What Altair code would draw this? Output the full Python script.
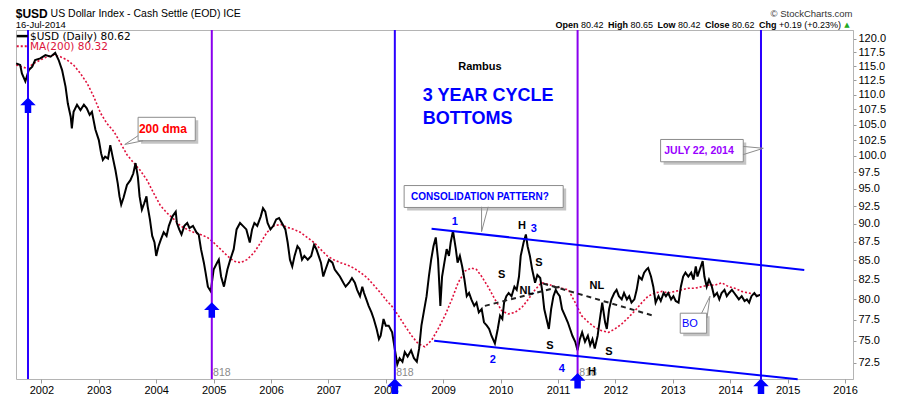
import altair as alt
import pandas as pd

# ---------------- data ----------------
price_t = [2001.56, 2001.63, 2001.66, 2001.72, 2001.78, 2001.84, 2001.89, 2001.98, 2002.07, 2002.16,
           2002.24, 2002.30, 2002.36, 2002.42, 2002.46, 2002.51, 2002.53, 2002.56, 2002.62, 2002.68,
           2002.74, 2002.79, 2002.84, 2002.88, 2002.94, 2003.00, 2003.04, 2003.07, 2003.11, 2003.16,
           2003.20, 2003.24, 2003.29, 2003.33, 2003.36, 2003.39, 2003.43, 2003.49, 2003.55, 2003.60,
           2003.64, 2003.68, 2003.71, 2003.75, 2003.79, 2003.83, 2003.85, 2003.89, 2003.93, 2003.97,
           2004.00, 2004.04, 2004.08, 2004.13, 2004.18, 2004.22, 2004.28, 2004.34, 2004.36, 2004.40,
           2004.44, 2004.49, 2004.54, 2004.58, 2004.64, 2004.70, 2004.74, 2004.78, 2004.83, 2004.86,
           2004.90, 2004.95, 2005.00, 2005.06, 2005.09, 2005.13, 2005.18, 2005.24, 2005.29, 2005.35,
           2005.40, 2005.46, 2005.51, 2005.57, 2005.63, 2005.67, 2005.71, 2005.76, 2005.82, 2005.86,
           2005.90, 2005.94, 2005.99, 2006.04, 2006.09, 2006.14, 2006.19, 2006.25, 2006.29, 2006.33,
           2006.37, 2006.41, 2006.46, 2006.50, 2006.54, 2006.58, 2006.64, 2006.70, 2006.75, 2006.79,
           2006.83, 2006.87, 2006.91, 2006.95, 2007.01, 2007.07, 2007.11, 2007.15, 2007.20, 2007.26,
           2007.30, 2007.36, 2007.41, 2007.46, 2007.50, 2007.55, 2007.59, 2007.62, 2007.66, 2007.70,
           2007.75, 2007.79, 2007.84, 2007.88, 2007.91, 2007.96, 2008.00, 2008.05, 2008.11, 2008.16,
           2008.20, 2008.24, 2008.29, 2008.33, 2008.38, 2008.44, 2008.49, 2008.54, 2008.58, 2008.62,
           2008.67, 2008.71, 2008.75, 2008.79, 2008.83, 2008.87, 2008.91, 2008.95, 2008.98, 2009.02,
           2009.06, 2009.10, 2009.13, 2009.17, 2009.22, 2009.25, 2009.29, 2009.33, 2009.37, 2009.41,
           2009.45, 2009.49, 2009.54, 2009.58, 2009.62, 2009.67, 2009.71, 2009.76, 2009.80, 2009.84,
           2009.90, 2009.95, 2009.99, 2010.03, 2010.06, 2010.10, 2010.14, 2010.19, 2010.24, 2010.28,
           2010.32, 2010.35, 2010.40, 2010.44, 2010.47, 2010.51, 2010.55, 2010.60, 2010.64, 2010.69,
           2010.73, 2010.76, 2010.80, 2010.84, 2010.88, 2010.92, 2010.96, 2010.99, 2011.03, 2011.07,
           2011.12, 2011.17, 2011.21, 2011.25, 2011.30, 2011.34, 2011.38, 2011.42, 2011.47, 2011.52,
           2011.56, 2011.60, 2011.64, 2011.69, 2011.73, 2011.77, 2011.82, 2011.85, 2011.89, 2011.93,
           2011.98, 2012.02, 2012.06, 2012.11, 2012.15, 2012.20, 2012.24, 2012.28, 2012.33, 2012.37,
           2012.41, 2012.46, 2012.50, 2012.54, 2012.57, 2012.62, 2012.66, 2012.70, 2012.75, 2012.79,
           2012.84, 2012.88, 2012.92, 2012.97, 2013.01, 2013.05, 2013.10, 2013.14, 2013.18, 2013.22,
           2013.27, 2013.32, 2013.36, 2013.40, 2013.43, 2013.47, 2013.52, 2013.55, 2013.59, 2013.63,
           2013.68, 2013.72, 2013.77, 2013.81, 2013.85, 2013.90, 2013.94, 2013.98, 2014.03, 2014.07,
           2014.11, 2014.15, 2014.20, 2014.25, 2014.29, 2014.33, 2014.37, 2014.42, 2014.46, 2014.54]
price_v = [115.5, 115.2, 113.7, 112.3, 114.3, 114.9, 116.1, 116.4, 117.0, 116.7,
           117.4, 116.1, 114.3, 111.4, 108.5, 106.3, 104.4, 107.1, 108.3, 107.4,
           108.3, 107.7, 106.6, 107.1, 104.2, 102.5, 100.4, 99.4, 99.9, 99.6,
           101.7, 99.9, 97.8, 95.8, 93.9, 92.7, 93.7, 95.6, 96.3, 97.3,
           98.9, 96.8, 93.9, 92.0, 92.9, 93.9, 92.5, 90.6, 88.3, 87.4,
           85.6, 86.9, 87.8, 88.8, 88.3, 89.7, 91.0, 91.7, 90.1, 89.2,
           88.5, 89.7, 90.1, 89.4, 89.7, 88.8, 88.5, 86.5, 84.7, 83.4,
           81.6, 81.0, 83.8, 84.7, 85.1, 82.9, 81.6, 83.8, 85.1, 86.5,
           89.2, 90.1, 89.7, 89.2, 87.4, 89.2, 90.1, 89.7, 91.0, 92.2,
           91.7, 90.1, 89.2, 89.7, 90.6, 90.8, 90.1, 89.2, 87.4, 85.1,
           84.2, 85.6, 86.9, 86.5, 85.1, 85.6, 85.1, 85.6, 87.1, 86.5,
           85.6, 84.7, 82.9, 83.8, 85.1, 84.7, 83.8, 83.4, 82.9, 82.1,
           81.6, 82.1, 82.7, 82.1, 81.2, 80.4, 81.6, 80.8, 80.0, 79.2,
           78.4, 77.6, 76.4, 75.2, 75.6, 77.6, 76.8, 76.8, 76.0, 73.9,
           72.3, 73.0, 72.6, 73.7, 73.2, 73.9, 73.0, 72.6, 74.1, 76.8,
           78.8, 80.4, 82.9, 85.1, 86.9, 88.1, 85.1, 79.2, 82.9, 84.7,
           86.5, 85.6, 87.4, 89.0, 86.5, 84.7, 85.6, 84.2, 82.5, 80.4,
           80.8, 80.0, 79.2, 79.6, 78.4, 78.8, 77.2, 76.8, 76.4, 75.6,
           74.7, 76.4, 78.0, 77.6, 79.6, 80.4, 80.8, 80.4, 81.6, 81.2,
           82.9, 85.6, 87.4, 88.5, 86.9, 85.6, 83.8, 82.1, 83.1, 82.7,
           80.8, 78.8, 77.6, 76.4, 78.8, 80.4, 81.2, 80.8, 80.4, 78.8,
           78.0, 77.2, 76.4, 75.6, 74.9, 73.9, 75.2, 76.0, 74.9, 75.6,
           74.5, 75.2, 74.1, 75.6, 77.6, 79.6, 77.2, 76.4, 78.8, 80.0,
           80.8, 81.2, 80.4, 80.0, 80.8, 80.0, 80.4, 79.6, 80.0, 81.2,
           82.9, 82.5, 83.4, 83.8, 84.0, 82.9, 81.6, 79.6, 80.4, 79.8,
           80.8, 80.4, 80.8, 80.0, 80.4, 79.8, 79.6, 81.6, 82.9, 83.4,
           82.9, 83.4, 82.5, 84.2, 82.9, 83.8, 84.9, 82.9, 81.6, 82.5,
           81.6, 80.4, 80.8, 80.0, 80.8, 81.2, 80.4, 80.8, 81.2, 80.8,
           80.4, 80.0, 80.4, 79.8, 80.0, 79.6, 80.4, 80.8, 80.4, 80.62]

ma_t = [2001.56, 2001.75, 2001.87, 2001.98, 2002.10, 2002.21, 2002.33, 2002.45, 2002.56, 2002.68,
        2002.80, 2002.91, 2003.03, 2003.14, 2003.26, 2003.38, 2003.49, 2003.61, 2003.72, 2003.84,
        2003.96, 2004.07, 2004.19, 2004.31, 2004.42, 2004.54, 2004.65, 2004.77, 2004.89, 2005.00,
        2005.12, 2005.24, 2005.35, 2005.47, 2005.58, 2005.70, 2005.82, 2005.93, 2006.05, 2006.17,
        2006.28, 2006.40, 2006.51, 2006.63, 2006.75, 2006.86, 2006.98, 2007.09, 2007.21, 2007.33,
        2007.44, 2007.56, 2007.68, 2007.79, 2007.91, 2008.02, 2008.10, 2008.22, 2008.33, 2008.45,
        2008.56, 2008.68, 2008.80, 2008.91, 2009.03, 2009.15, 2009.26, 2009.38, 2009.49, 2009.58,
        2009.67, 2009.78, 2009.90, 2010.02, 2010.13, 2010.25, 2010.37, 2010.48, 2010.60, 2010.71,
        2010.83, 2010.95, 2011.06, 2011.18, 2011.30, 2011.41, 2011.53, 2011.64, 2011.76, 2011.88,
        2011.99, 2012.11, 2012.23, 2012.34, 2012.46, 2012.57, 2012.69, 2012.81, 2012.92, 2013.04,
        2013.15, 2013.27, 2013.39, 2013.50, 2013.62, 2013.74, 2013.85, 2013.97, 2014.08, 2014.20,
        2014.32, 2014.43, 2014.54]
ma_v = [115.2, 114.6, 115.5, 116.1, 116.7, 117.0, 116.7, 116.1, 115.2, 113.7,
        111.9, 109.7, 106.9, 105.2, 103.9, 102.0, 100.2, 98.9, 97.8, 96.3,
        94.3, 92.6, 91.5, 90.6, 89.7, 89.2, 88.8, 88.5, 88.1, 87.4,
        86.5, 85.6, 84.9, 84.7, 85.1, 86.0, 87.4, 88.8, 89.7, 89.9,
        89.5, 89.2, 88.8, 88.1, 87.4, 86.5, 85.6, 85.1, 84.7, 84.4,
        84.0, 83.4, 82.7, 81.8, 80.8, 79.8, 79.2, 78.0, 76.8, 75.6,
        74.7, 74.3, 75.1, 76.4, 78.0, 80.0, 82.1, 83.6, 84.0, 83.8,
        82.9, 81.6, 80.0, 78.6, 78.2, 78.4, 79.0, 80.0, 81.2, 82.1,
        81.9, 81.6, 81.4, 81.2, 79.6, 78.0, 77.2, 76.6, 76.2, 76.0,
        76.4, 77.0, 77.8, 78.6, 79.6, 80.4, 80.8, 81.0, 80.8, 81.0,
        81.2, 81.4, 81.4, 81.6, 81.8, 81.8, 82.1, 81.6, 81.4, 81.0,
        80.8, 80.6, 80.32]

cycle_t = [2001.766, 2004.968, 2008.157, 2011.341, 2014.536]
cycle_colors = ["#2a00ff", "#8a00ee", "#2a00ff", "#8a00ee", "#2a00ff"]
arrow_v = [108.2, 78.7, 69.9, 70.5, 69.9]

year_ticks = list(range(2002, 2017))
price_ticks = [72.5, 75.0, 77.5, 80.0, 82.5, 85.0, 87.5, 90.0, 92.5, 95.0,
               97.5, 100.0, 102.5, 105.0, 107.5, 110.0, 112.5, 115.0, 117.5, 120.0]

# channel lines (start/end)
trend_id = ["up", "up", "lo", "lo"]
trend_t = [2008.797, 2015.290, 2008.842, 2015.175]
trend_v = [89.3, 83.75, 75.0, 70.65]
neck_id = ["n1", "n1", "n2", "n2"]
neck_t = [2009.726, 2011.033, 2010.742, 2012.659]
neck_v = [79.2, 81.6, 82.0, 78.0]

# ---------------- scales / axes ----------------
FONT = "Liberation Sans"
xs = alt.Scale(domain=[2001.557, 2016.139], nice=False, zero=False)
ys = alt.Scale(type="log", domain=[70.68, 121.65], nice=False)
xaxis = alt.Axis(values=year_ticks, format="d", title=None, grid=False, domain=False,
                 tickSize=4, tickColor="#9a9a9a", labelFont=FONT, labelFontSize=11,
                 labelColor="black", labelPadding=1, labelFlush=False, labelOverlap=False)
yaxis = alt.Axis(orient="right", values=price_ticks, format=".1f", title=None, grid=False,
                 domainColor="#b4b4b4", tickSize=3, tickColor="#9a9a9a", labelFont=FONT,
                 labelFontSize=11, labelColor="black", labelPadding=2, labelOverlap=False)
X = alt.X("t:Q", scale=xs, axis=xaxis)
Y = alt.Y("v:Q", scale=ys, axis=yaxis)

layers = []

price_df = pd.DataFrame({"t": price_t, "v": price_v})
ma_df = pd.DataFrame({"t": ma_t, "v": ma_v})
layers.append(alt.Chart(ma_df).mark_line(color="#e0103c", strokeWidth=1.6, strokeDash=[2, 2])
              .encode(x=X, y=Y))
layers.append(alt.Chart(price_df).mark_line(color="black", strokeWidth=2).encode(x=X, y=Y))

cyc_df = pd.DataFrame({"t": cycle_t, "c": cycle_colors})
layers.append(alt.Chart(cyc_df).mark_rule(strokeWidth=2).encode(
    x=X, color=alt.Color("c:N", scale=None)))

tr_df = pd.DataFrame({"id": trend_id, "t": trend_t, "v": trend_v})
layers.append(alt.Chart(tr_df).mark_line(color="#0000ff", strokeWidth=2).encode(
    x=X, y=Y, detail="id:N"))
nk_df = pd.DataFrame({"id": neck_id, "t": neck_t, "v": neck_v})
layers.append(alt.Chart(nk_df).mark_line(color="#222222", strokeWidth=2, strokeDash=[5, 4]).encode(
    x=X, y=Y, detail="id:N"))

# call-out boxes
box_df = pd.DataFrame({
    "t": [2003.684, 2012.787, 2008.319, 2013.129],
    "t2": [2004.680, 2014.227, 2011.090, 2013.589],
    "v": [106.2, 102.6, 95.5, 78.3],
    "v2": [102.4, 99.1, 92.3, 75.9],
})
layers.append(alt.Chart(box_df).mark_rect(color="#c4c4c4", xOffset=3, x2Offset=3, yOffset=3, y2Offset=3)
              .encode(x=X, x2="t2:Q", y=Y, y2="v2:Q"))
layers.append(alt.Chart(box_df).mark_rect(fill="white", stroke="#8c8c8c", strokeWidth=1)
              .encode(x=X, x2="t2:Q", y=Y, y2="v2:Q"))
ptr_df = pd.DataFrame({
    "id": ["a"] * 3 + ["b"] * 3 + ["c"] * 3 + ["d"] * 3,
    "o": [0, 1, 2] * 4,
    "t": [2003.684, 2003.452, 2003.771, 2009.668, 2009.668, 2009.783,
          2014.222, 2014.576, 2014.222, 2013.502, 2013.647, 2013.595],
    "v": [103.2, 101.8, 102.4, 92.4, 88.9, 92.4,
          101.5, 101.2, 100.2, 78.3, 80.4, 77.7],
})
layers.append(alt.Chart(ptr_df).mark_line(color="#8c8c8c", strokeWidth=1).encode(
    x=X, y=Y, detail="id:N", order="o:Q"))


def texts(rows, **kw):
    df = pd.DataFrame(rows, columns=["s", "t", "v", "c"])
    return alt.Chart(df).mark_text(baseline="middle", **kw).encode(
        x=X, y=Y, text="s:N", color=alt.Color("c:N", scale=None))


# annotations
layers.append(texts([["Rambus", 2009.639, 114.9, "black"]], font=FONT, fontSize=11, fontWeight="bold"))
layers.append(texts([["3 YEAR CYCLE", 2008.645, 109.7, "#0000ff"],
                     ["BOTTOMS", 2008.645, 105.9, "#0000ff"]],
                    font=FONT, fontSize=18, fontWeight="bold", align="left"))
layers.append(texts([["200 dma", 2004.117, 104.3, "#ff0000"]], font=FONT, fontSize=12, fontWeight="bold"))
layers.append(texts([["JULY 22, 2014", 2013.456, 100.8, "#9900ff"]], font=FONT, fontSize=10.5,
                    fontWeight="bold"))
layers.append(texts([["CONSOLIDATION PATTERN?", 2009.639, 93.85, "#0000ff"]], font=FONT, fontSize=10,
                    fontWeight="bold"))
layers.append(texts([["BO", 2013.298, 77.0, "#0000ff"]], font=FONT, fontSize=11))
layers.append(texts([["1", 2009.203, 90.2, "#0000ff"], ["2", 2009.865, 72.8, "#0000ff"],
                     ["3", 2010.580, 89.3, "#0000ff"], ["4", 2011.068, 71.8, "#0000ff"],
                     ["H", 2010.370, 89.7, "black"], ["S", 2010.017, 83.1, "black"],
                     ["S", 2010.667, 84.6, "black"], ["NL", 2010.458, 81.1, "black"],
                     ["NL", 2011.678, 81.7, "black"], ["S", 2010.859, 74.4, "black"],
                     ["S", 2011.887, 73.7, "black"]],
                    font=FONT, fontSize=11, fontWeight="bold"))
layers.append(texts([["818", 2004.99, 71.3, "#8a8a8a"], ["818", 2008.18, 71.3, "#8a8a8a"],
                     ["818", 2011.37, 71.3, "#8a8a8a"]],
                    font=FONT, fontSize=10.5, align="left"))
layers.append(texts([["H", 2011.590, 71.5, "black"]], font=FONT, fontSize=11, fontWeight="bold"))

# arrows at the cycle lows
arr_df = pd.DataFrame({"t": cycle_t, "v": arrow_v})
arrow_path = "M 0 -1 L 1 0 L 0.42 0 L 0.42 1 L -0.42 1 L -0.42 0 L -1 0 Z"
layers.append(alt.Chart(arr_df).mark_point(shape=arrow_path, filled=True, size=240, color="#0000ff",
                                           opacity=1).encode(x=X, y=Y))

# legend (top-left inside plot)
leg_line = pd.DataFrame({"id": ["p", "p"], "t": [2001.570, 2001.761], "v": [120.5, 120.5]})
leg_ma = pd.DataFrame({"id": ["m", "m"], "t": [2001.570, 2001.775], "v": [118.6, 118.6]})
layers.append(alt.Chart(leg_line).mark_line(color="black", strokeWidth=2.5).encode(x=X, y=Y, detail="id:N"))
layers.append(alt.Chart(leg_ma).mark_line(color="#e0103c", strokeWidth=2, strokeDash=[2, 2]).encode(
    x=X, y=Y, detail="id:N"))
layers.append(texts([["$USD (Daily) 80.62", 2001.80, 120.4, "black"],
                     ["MA(200) 80.32", 2001.80, 118.5, "#dc143c"]],
                    font="DejaVu Sans", fontSize=10.5, align="left"))

# header
layers.append(texts([["$USD", 2001.552, 124.7, "black"]], font=FONT, fontSize=12, fontWeight="bold",
                    align="left"))
layers.append(texts([["US Dollar Index - Cash Settle (EOD) ICE", 2002.160, 124.7, "black"]],
                    font=FONT, fontSize=10.5, align="left"))
layers.append(texts([["16-Jul-2014", 2001.552, 122.6, "black"]], font=FONT, fontSize=9.5,
                    align="left"))
layers.append(texts([["\u00a9 StockCharts.com", 2016.13, 124.7, "#333333"]], font=FONT, fontSize=9.5,
                    align="right"))
layers.append(texts([["Open", 2010.954, 122.6, "black"], ["High", 2011.869, 122.6, "black"],
                     ["Low", 2012.732, 122.6, "black"], ["Close", 2013.560, 122.6, "black"],
                     ["Chg", 2014.501, 122.6, "black"]],
                    font=FONT, fontSize=9, fontWeight="bold", align="left"))
layers.append(texts([["80.42", 2011.399, 122.6, "black"], ["80.65", 2012.261, 122.6, "black"],
                     ["80.42", 2013.089, 122.6, "black"], ["80.62", 2014.030, 122.6, "black"],
                     ["+0.19 (+0.23%)", 2014.849, 122.6, "black"]],
                    font=FONT, fontSize=9, align="left"))
layers.append(texts([["\u25b2", 2016.034, 122.6, "#22aa22"]], font="DejaVu Sans", fontSize=7))

chart = alt.layer(*layers).properties(
    width=837, height=349,
    autosize=alt.AutoSizeParams(type="none"),
    padding={"left": 8, "top": 22, "right": 39, "bottom": 17},
).configure_view(stroke="#b4b4b4", strokeWidth=1)

chart.save("out.html", embed_options={"renderer": "svg", "actions": False})
